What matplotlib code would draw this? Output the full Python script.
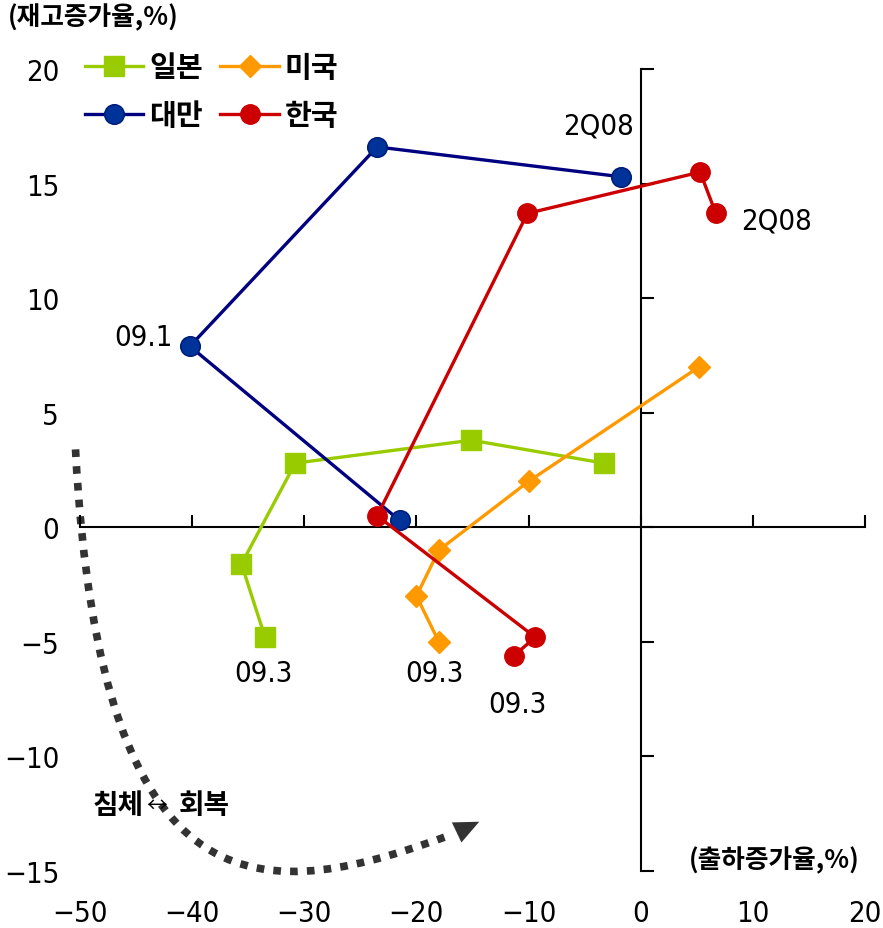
import numpy as np
import matplotlib
matplotlib.use('Agg')
import matplotlib.pyplot as plt
from matplotlib.path import Path
from matplotlib.patches import PathPatch
from matplotlib import font_manager

# data: x = shipment growth (%), y = inventory growth (%)
japan_x = [-3.3, -15.1, -30.8, -35.6, -33.5]
japan_y = [2.8, 3.8, 2.8, -1.6, -4.8]
usa_x = [5.2, -10.0, -18.0, -20.0, -18.0]
usa_y = [7.0, 2.0, -1.0, -3.0, -5.0]
taiwan_x = [-1.8, -23.5, -40.2, -21.5]
taiwan_y = [15.3, 16.6, 7.9, 0.3]
korea_x = [6.7, 5.3, -10.1, -23.5, -9.4, -11.3]
korea_y = [13.7, 15.5, 13.7, 0.5, -4.8, -5.6]

x_ticks = [-50, -40, -30, -20, -10, 0, 10, 20]
y_ticks = [-15, -10, -5, 0, 5, 10, 15, 20]

# look for a narrow face for the numbers (reference uses a condensed font)
num_prop = font_manager.FontProperties(family='Liberation Sans')
stretch_rank = {'extra-condensed': 0, 'condensed': 1, 'semi-condensed': 2}
best = None
for fe in font_manager.fontManager.ttflist:
    if fe.style != 'normal' or fe.stretch not in stretch_rank:
        continue
    w = fe.weight if isinstance(fe.weight, int) else 400
    if w not in (400, 500):
        continue
    key = (stretch_rank[fe.stretch], abs(w - 450), fe.fname)
    if best is None or key < best[0]:
        best = (key, fe.fname)
if best:
    num_prop = font_manager.FontProperties(fname=best[1])
kr_font = ['Noto Sans CJK KR', 'DejaVu Sans']

fig = plt.figure(figsize=(8.83, 9.29), dpi=100)
ax = fig.add_axes([80/883, 57/929, 785/883, 802/929])
ax.set_xlim(-50, 20)
ax.set_ylim(-15, 20)

for s in ax.spines.values():
    s.set_visible(False)
ax.set_xticks(x_ticks)
ax.set_yticks(y_ticks)
ax.set_xticklabels(['\u2212' + str(-v) if v < 0 else str(v) for v in x_ticks])
ax.set_yticklabels(['\u2212' + str(-v) if v < 0 else str(v) for v in y_ticks])
ax.tick_params(length=0)
ax.tick_params(axis='x', pad=20)
ax.tick_params(axis='y', pad=15)
for lab in ax.get_xticklabels() + ax.get_yticklabels():
    lab.set_fontproperties(num_prop)
    lab.set_fontsize(21)

# cross axes through the origin
ax.plot([-50, 20], [0, 0], color='black', lw=1.5, clip_on=False, zorder=2)
ax.plot([0, 0], [-15, 20], color='black', lw=1.5, clip_on=False, zorder=2)
ax.plot(x_ticks, np.zeros(len(x_ticks)), ls='none', marker=2, ms=9, mew=1.5,
        color='black', clip_on=False, zorder=2)
ax.plot(np.zeros(len(y_ticks)), y_ticks, ls='none', marker=1, ms=9, mew=1.5,
        color='black', clip_on=False, zorder=2)

l_jp, = ax.plot(japan_x, japan_y, color='#99CC00', lw=2.4, marker='s', ms=14,
                mfc='#99CC00', mec='#99CC00', label='일본', clip_on=False, zorder=4)
l_us, = ax.plot(usa_x, usa_y, color='#FF9900', lw=2.4, marker='D', ms=11,
                mfc='#FF9900', mec='#FF9900', label='미국', clip_on=False, zorder=4)
l_tw, = ax.plot(taiwan_x, taiwan_y, color='#000080', lw=2.4, marker='o', ms=14,
                mfc='#003399', mec='#001f7a', mew=1.2, label='대만', clip_on=False, zorder=5)
l_kr, = ax.plot(korea_x, korea_y, color='#CC0000', lw=2.4, marker='o', ms=14,
                mfc='#CC0000', mec='#CC0000', label='한국', clip_on=False, zorder=5)

# point labels
def plabel(x, y, s):
    t = ax.text(x, y, s, ha='center', va='center')
    t.set_fontproperties(num_prop)
    t.set_fontsize(21)

plabel(-3.75, 17.55, '2Q08')
plabel(12.1, 13.4, '2Q08')
plabel(-44.3, 8.3, '09.1')
plabel(-33.6, -6.35, '09.3')
plabel(-18.4, -6.35, '09.3')
plabel(-10.95, -7.7, '09.3')

# dotted recession -> recovery arrow
curve = Path([(-50.4, 3.4), (-48.15, -17.6), (-33.0, -16.3), (-16.8, -13.4)],
             [Path.MOVETO, Path.CURVE4, Path.CURVE4, Path.CURVE4])
ax.add_patch(PathPatch(curve, fill=False, ec='#333333', lw=5.5,
                       linestyle=(0, (1, 1.2)), capstyle='butt', clip_on=False))
ax.annotate('', xy=(-14.4, -12.85), xytext=(-17.2, -13.5),
            arrowprops=dict(arrowstyle='-|>,head_length=1.8,head_width=0.8',
                            color='#333333', lw=0, shrinkA=0, shrinkB=0),
            annotation_clip=False)
ax.text(-48.9, -12.1, '침체', family=kr_font, fontsize=20,
        fontweight='bold', ha='left', va='center')
ax.text(-44.1, -12.1, '↔', family=kr_font, fontsize=15,
        fontweight='normal', ha='left', va='center')
ax.text(-41.2, -12.1, '회복', family=kr_font, fontsize=20,
        fontweight='bold', ha='left', va='center')

# axis titles
fig.text(8/883, 1 - 18/929, '(재고증가율,%)', family=kr_font, fontsize=18.5,
         fontweight='bold', ha='left', va='center')
fig.text(860/883, 1 - 861/929, '(출하증가율,%)', family=kr_font, fontsize=18.5,
         fontweight='bold', ha='right', va='center')

ax.legend([l_jp, l_tw, l_us, l_kr], ['일본', '대만', '미국', '한국'],
          ncol=2, loc='upper left', bbox_to_anchor=(85/883, 1 - 53/929),
          bbox_transform=fig.transFigure, frameon=False, borderpad=0,
          borderaxespad=0, handlelength=2.0, handletextpad=0.2,
          columnspacing=0.6, labelspacing=0.62,
          prop={'family': kr_font, 'size': 21, 'weight': 'bold'})

fig.savefig('out.png', dpi=100)
